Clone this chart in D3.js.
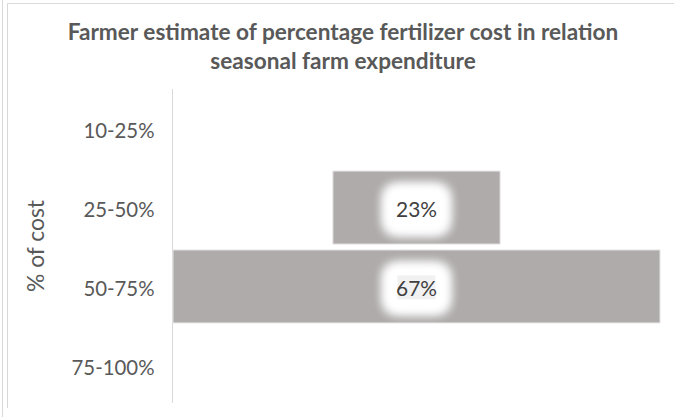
<!DOCTYPE html>
<html>
<head>
<meta charset="utf-8">
<script src="https://cdn.jsdelivr.net/npm/d3@7"></script>
<style>
  html, body { margin: 0; padding: 0; background: #fff; }
  svg { display: block; }
  text { font-family: Lato, "Open Sans", sans-serif; }
</style>
</head>
<body>
<svg id="chart" width="674" height="417"></svg>
<script>
// Cost bands (top to bottom) and the share of farmers choosing each one
const categories = ["10-25%", "25-50%", "50-75%", "75-100%"];
const values = [null, 23, 67, null];
const valueLabels = ["", "23%", "67%", ""];
const titleLines = ["Farmer estimate of percentage fertilizer cost in relation", "seasonal farm expenditure"];
const axisTitle = "% of cost";

const W = 674, H = 417;
const svg = d3.select("#chart");

// chart frame
const frame = svg.append("g").attr("stroke", "#d9d9d9").attr("stroke-width", 1).attr("fill", "none");
frame.append("line").attr("x1", 7.5).attr("x2", W).attr("y1", 3.5).attr("y2", 3.5);
frame.append("line").attr("x1", 7.5).attr("x2", 7.5).attr("y1", 3.5).attr("y2", 408);
frame.append("line").attr("x1", 2.5).attr("x2", 2.5).attr("y1", 0).attr("y2", H);

// glow filter for the data labels
const defs = svg.append("defs");
const glow = defs.append("filter").attr("id", "glow")
  .attr("x", "-60%").attr("y", "-60%").attr("width", "220%").attr("height", "220%");
glow.append("feGaussianBlur").attr("in", "SourceGraphic").attr("stdDeviation", 6).attr("result", "b");
const merge = glow.append("feMerge");
merge.append("feMergeNode").attr("in", "b");
merge.append("feMergeNode").attr("in", "b");
merge.append("feMergeNode").attr("in", "b");

// plot area
const plot = { left: 173, right: 660, top: 89, bottom: 405 };
const maxV = d3.max(values.filter(v => v != null));
const x = d3.scaleLinear().domain([-maxV / 2, maxV / 2]).range([plot.left, plot.right]);
const y = d3.scaleBand().domain(categories).range([plot.top, plot.bottom]).paddingInner(0.075).paddingOuter(0.04);

// helper: fit text to a target width
function fit(sel, targetWidth) {
  const len = sel.node().getComputedTextLength();
  const fs = parseFloat(sel.attr("font-size"));
  sel.attr("font-size", fs * targetWidth / len);
}

// title
let titleFs = 19;
titleLines.forEach((t, i) => {
  const tt = svg.append("text")
    .attr("x", 343).attr("y", 40 + i * 29)
    .attr("text-anchor", "middle")
    .attr("font-size", titleFs).attr("font-weight", 700)
    .attr("fill", "#595959")
    .text(t);
  if (i === 0) { fit(tt, 551); titleFs = tt.attr("font-size"); }
  else tt.attr("font-size", titleFs);
});

// category axis
const axis = d3.axisLeft(y).tickSize(0).tickPadding(18);
const gAxis = svg.append("g").attr("transform", `translate(${plot.left - 0.5},0)`).call(axis);
gAxis.select(".domain").attr("stroke", "#d9d9d9").attr("d", `M0,${plot.top}V${plot.bottom - 2}`);
gAxis.selectAll(".tick text")
  .attr("font-size", 19)
  .attr("fill", "#595959")
  .attr("font-family", "Lato, sans-serif")
  .attr("dy", "0.45em");
fit(gAxis.selectAll(".tick text").filter(d => d === "75-100%"), 83);
const tickFs = gAxis.selectAll(".tick text").filter(d => d === "75-100%").attr("font-size");
gAxis.selectAll(".tick text").attr("font-size", tickFs);

// axis title
const at = svg.append("text")
  .attr("transform", "translate(44,246) rotate(-90)")
  .attr("text-anchor", "middle")
  .attr("font-size", 19).attr("fill", "#595959")
  .text(axisTitle);
fit(at, 92);

// bars, centred on the middle of the plot
const rows = categories.map((c, i) => ({ c, v: values[i], label: valueLabels[i] })).filter(d => d.v != null);

svg.append("g").selectAll("rect").data(rows).join("rect")
  .attr("x", d => x(-d.v / 2))
  .attr("width", d => x(d.v / 2) - x(-d.v / 2))
  .attr("y", d => y(d.c))
  .attr("height", y.bandwidth())
  .attr("fill", "#afabab")
  .attr("stroke", "#e6e4e4")
  .attr("stroke-width", 1);

// data labels with a soft white glow
const lab = svg.append("g").selectAll("g").data(rows).join("g")
  .attr("transform", d => `translate(${x(0)},${y(d.c) + y.bandwidth() / 2 + 2})`);

lab.append("rect")
  .attr("x", -31).attr("y", -23).attr("width", 62).attr("height", 46).attr("rx", 10)
  .attr("fill", "#fff").attr("filter", "url(#glow)");

lab.filter(d => d.v === maxV).append("rect")
  .attr("x", -23).attr("y", -18).attr("width", 46).attr("height", 35).attr("rx", 2)
  .attr("fill", "#fff");
lab.filter(d => d.v === maxV).append("rect")
  .attr("x", -19).attr("y", -13).attr("width", 38).attr("height", 24)
  .attr("fill", "#f1f1f1");

lab.append("text")
  .attr("text-anchor", "middle")
  .attr("dy", "0.36em")
  .attr("font-size", 19)
  .attr("fill", "#404040")
  .text(d => d.label)
  .each(function () { fit(d3.select(this), 41); });
</script>
</body>
</html>
